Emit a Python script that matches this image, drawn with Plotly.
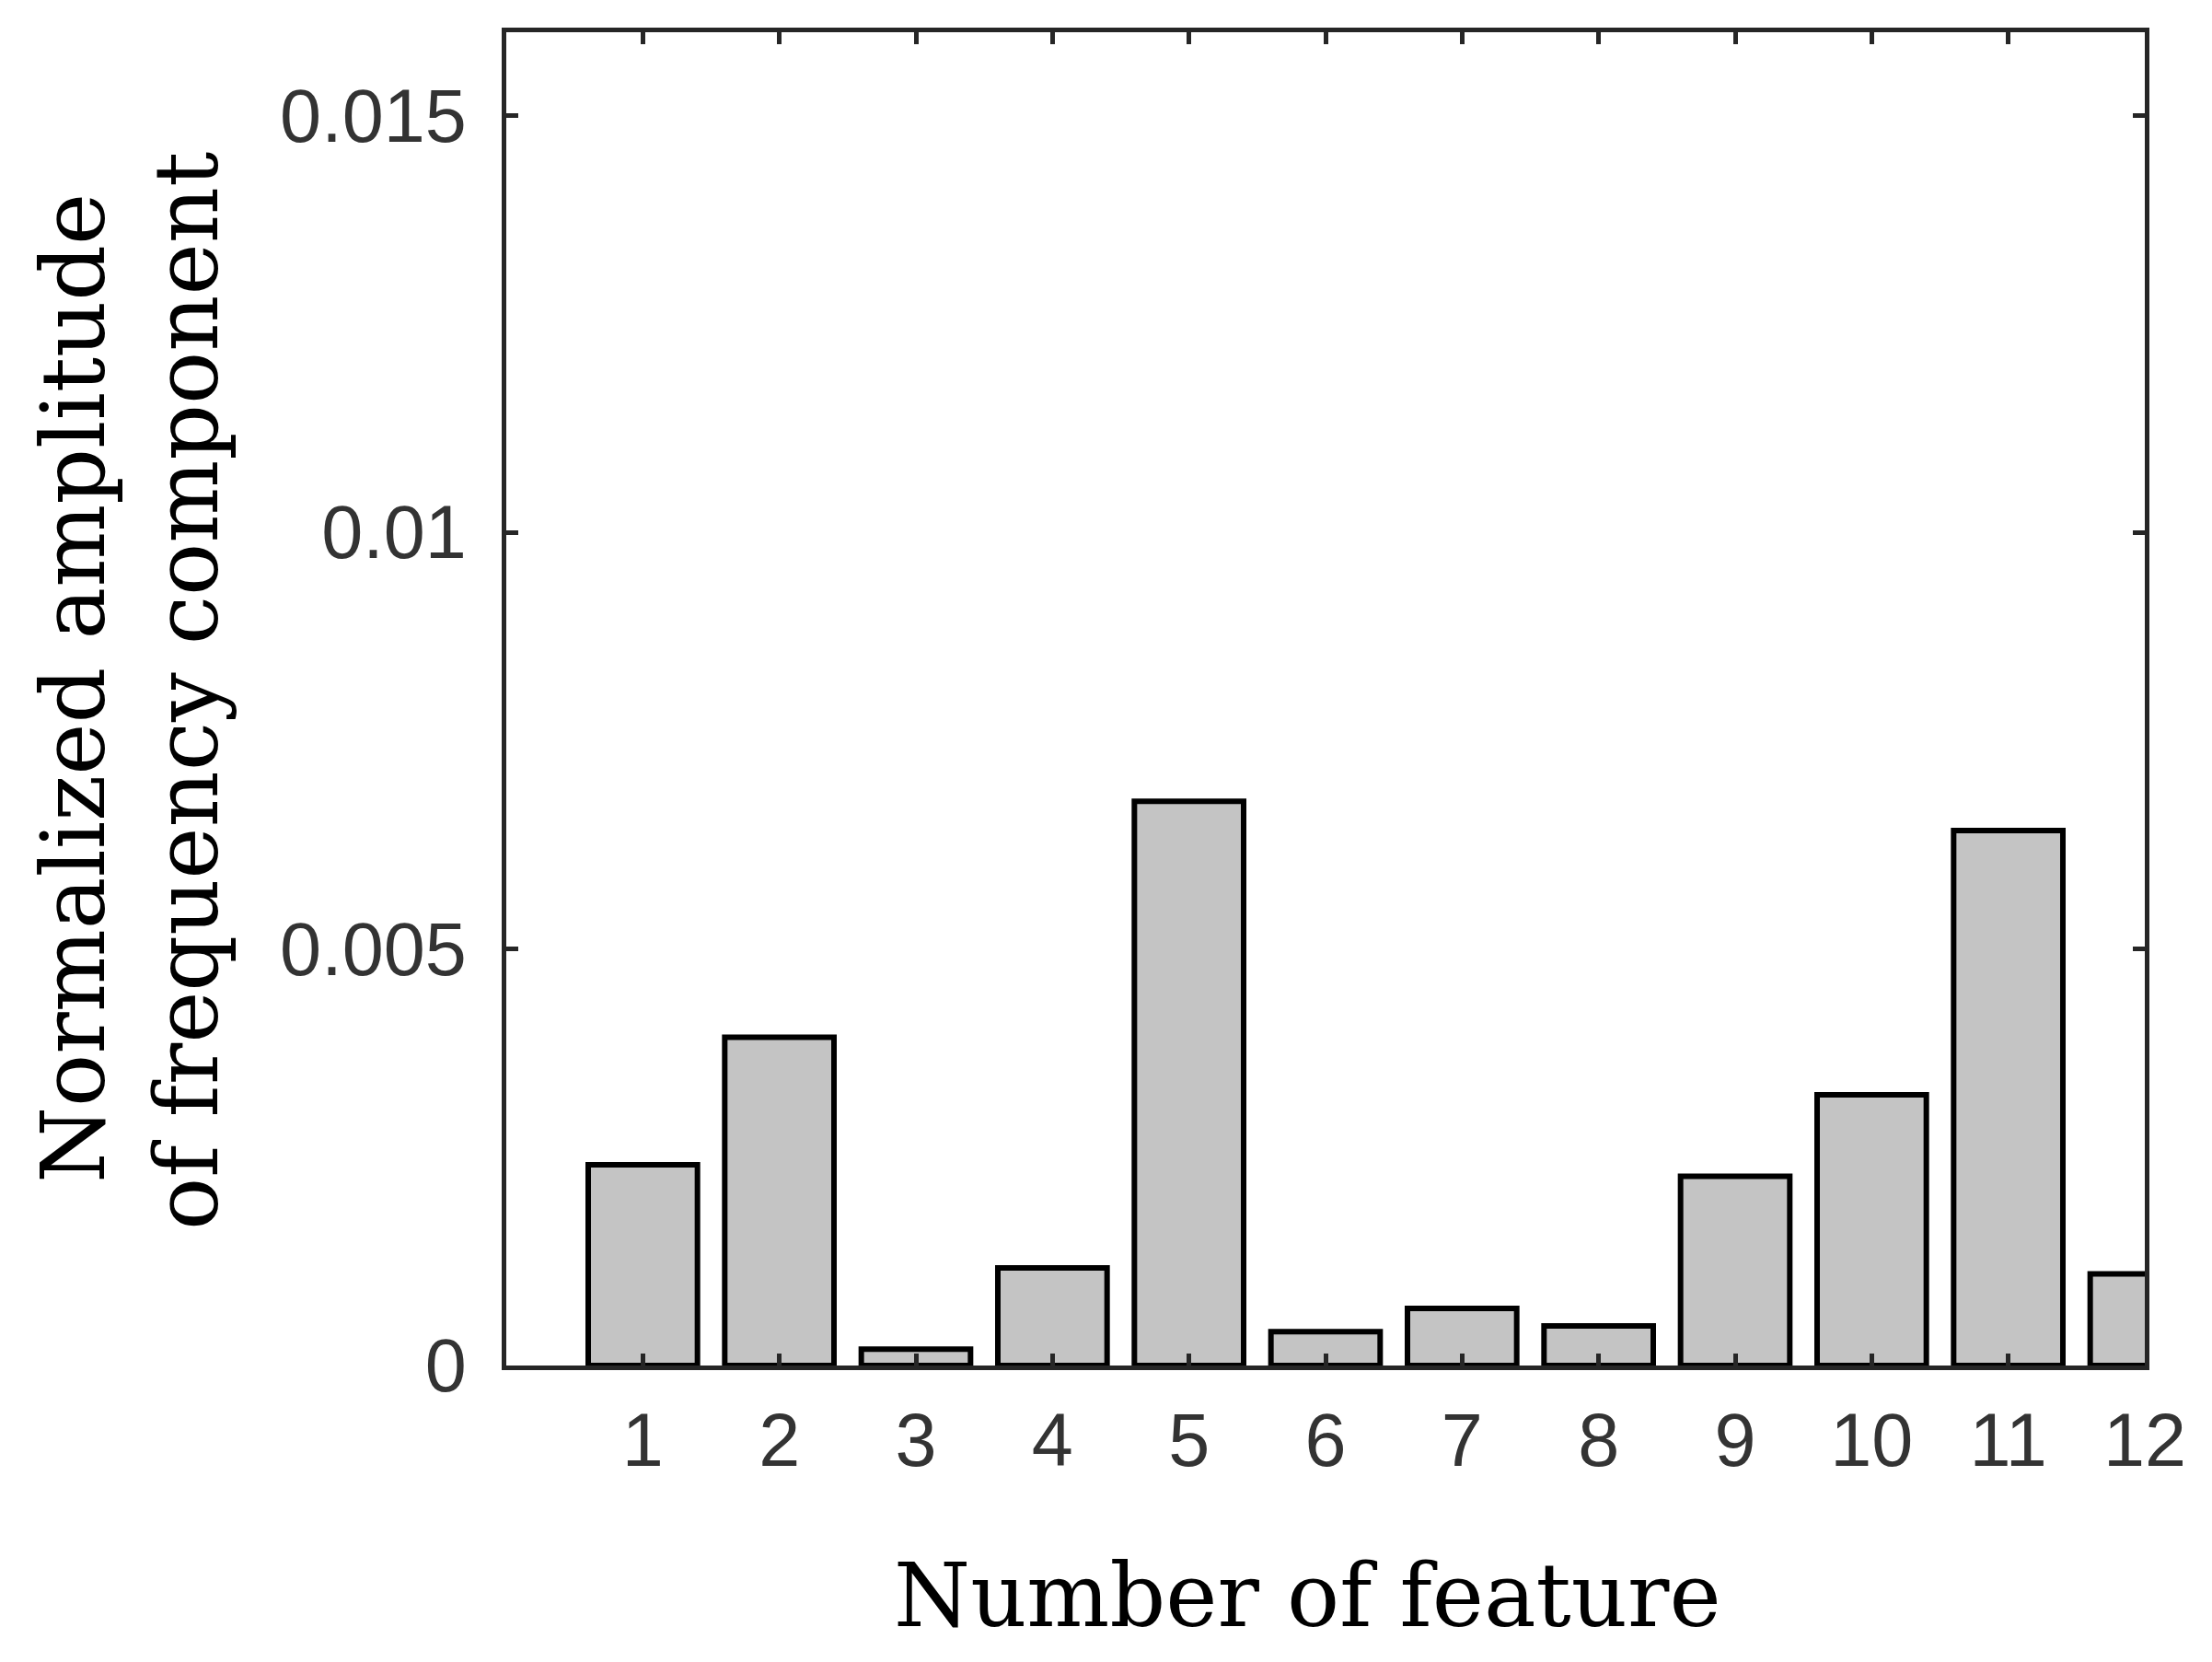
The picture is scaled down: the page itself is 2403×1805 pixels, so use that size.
import plotly.graph_objects as go

features = list(range(1, 13))
amplitudes = [0.00241, 0.00394, 0.000196, 0.00117, 0.00677, 0.000406,
              0.000686, 0.000476, 0.00227, 0.00325, 0.00642, 0.0011]
y_tickvals = [0, 0.005, 0.01, 0.015]
y_ticktext = ["0", "0.005", "0.01", "0.015"]
x_tickvals = features
x_ticktext = [str(v) for v in features]
x_title = "Number of feature"
y_title_lines = ["Normalized amplitude", "of frequency component"]

W, H = 2403, 1805
OFF = 8  # default page body margin
# target plot area in screenshot pixels
PL, PR, PT, PB = 550, 2330, 35, 1483
L, T = PL - OFF, PT - OFF
R, B = W - (PR - OFF), H - (PB - OFF)
pw, ph = PR - PL, PB - PT

def px_x(p):
    return (p - PL) / pw

def px_y(p):
    return (PB - p) / ph

fig = go.Figure(go.Bar(
    x=features, y=amplitudes, width=0.8,
    marker=dict(color="#c4c4c4", line=dict(color="#000000", width=6)),
))

axis_common = dict(
    showline=True, linecolor="#262626", linewidth=5, mirror="ticks",
    ticks="inside", ticklen=13, tickwidth=5, tickcolor="#262626",
    showgrid=False, zeroline=False,
    tickfont=dict(family="Liberation Sans", size=81, color="#333333"),
)

fig.update_xaxes(range=[0, 12], tickvals=x_tickvals, ticktext=x_ticktext,
                 ticklabelstandoff=7, **axis_common)
fig.update_yaxes(range=[0, 0.016], tickvals=y_tickvals, ticktext=y_ticktext,
                 ticklabelstandoff=22, **axis_common)

title_font = dict(family="DejaVu Serif", size=95, color="#000000")
annotations = [
    dict(text=x_title, xref="paper", yref="paper", x=px_x(1420), y=px_y(1733),
         xanchor="center", yanchor="middle", showarrow=False, font=title_font),
    dict(text=y_title_lines[0], xref="paper", yref="paper", x=px_x(80), y=px_y(748),
         xanchor="center", yanchor="middle", textangle=-90, showarrow=False, font=title_font),
    dict(text=y_title_lines[1], xref="paper", yref="paper", x=px_x(203), y=px_y(751),
         xanchor="center", yanchor="middle", textangle=-90, showarrow=False, font=title_font),
]

fig.update_layout(
    width=W, height=H,
    margin=dict(l=L, r=R, t=T, b=B, autoexpand=False),
    paper_bgcolor="white", plot_bgcolor="white",
    showlegend=False, annotations=annotations,
)

fig.write_html("out.html")
